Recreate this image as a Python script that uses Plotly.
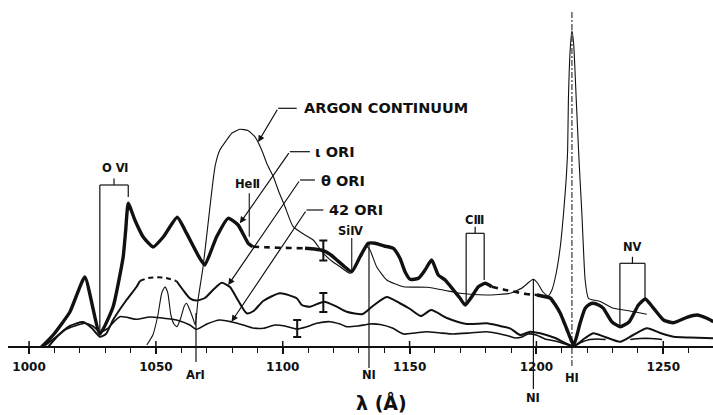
import plotly.graph_objects as go

# ---------------- data (wavelength in Angstrom, relative intensity) ----------------
# iota Ori (heavy curve), split into solid / dashed (interpolated) parts
iota_a_wl = [1004.9, 1009.5, 1016.1, 1022.0, 1027.9, 1033.1, 1037.1, 1038.1, 1039.1, 1041.7, 1045.0, 1048.9,
             1052.9, 1058.4, 1062.1, 1067.3, 1069.3, 1073.9, 1078.5, 1082.4, 1086.4, 1088.2]
iota_a_I = [0, 12, 35, 70, 13, 40, 90, 117, 143.7, 127, 110, 100, 110, 129.7, 113.7, 88.7, 82, 110, 128.7, 122,
            103.7, 100.3]
iota_b_wl = [1088.2, 1093, 1098, 1103, 1108.8]
iota_b_I = [100.3, 99.8, 99.3, 99, 98.7]
iota_c_wl = [1108.8, 1112.5, 1116.0, 1119.0, 1121.3, 1124.5, 1127.2, 1130.5, 1133.7, 1136.4, 1140.0, 1143.6,
             1146.2, 1148.2, 1150.2, 1153.5, 1156.1, 1158.7, 1161.3, 1164.0, 1167.3, 1169.9, 1171.9, 1174.5,
             1177.1, 1179.8, 1182.4]
iota_c_I = [98.7, 98, 96.3, 92, 87, 80, 75.3, 90.3, 103.7, 103.7, 101, 98.7, 88.7, 75.3, 67.7, 68.7, 77, 87, 72,
            67, 57, 48.7, 42, 50.3, 60.3, 63.7, 60.3]
iota_d_wl = [1182.4, 1187, 1192, 1196, 1200.2]
iota_d_I = [60.3, 57.5, 55, 53, 52]
iota_e_wl = [1200.2, 1203.0, 1205.4, 1207.5, 1209.4, 1211.0, 1212.1, 1213.5, 1214.7, 1216.0, 1217.2, 1219.2,
             1220.8, 1222.5, 1224.5, 1226.4, 1229.7, 1233.0, 1236.6, 1240.2, 1242.9, 1246.2, 1250.1, 1254.0,
             1259.3, 1263.3, 1267.2, 1269.7]
iota_e_I = [52, 50.5, 49, 42, 33.7, 24, 17, 8, 2, 12, 23.7, 38.7, 42.5, 43.7, 42, 38.7, 25.3, 20.3, 25.3, 42,
            48, 38.7, 27, 24.3, 29.7, 32, 28.7, 25.3]

# theta Ori (medium curve)
theta_a_wl = [1007.5, 1011.3, 1016.1, 1021.3, 1024.7, 1027.9, 1030.3, 1033.1, 1038.4, 1042.4, 1043.7]
theta_a_I = [0, 11, 21, 25, 19, 10.3, 13, 27, 47, 60.3, 66]
theta_b_wl = [1043.7, 1046.8, 1050.3, 1053.9, 1058.1]
theta_b_I = [66, 69, 69.7, 69, 66]
theta_c_wl = [1058.1, 1060.7, 1063.4, 1066.0, 1069.3, 1072.9, 1075.9, 1079.2, 1082.3, 1085.8, 1088.5, 1092.3,
              1098.9, 1105.5, 1107.5, 1110.7, 1116.3, 1121.3, 1125.2, 1131.5, 1135.5, 1141.0, 1146.0, 1150.2,
              1154.5, 1158.5, 1164.7, 1172.5, 1180.4, 1185.7, 1189.6, 1193.6, 1197.5, 1201.5, 1207.4, 1214.6,
              1219.2, 1222.5, 1227.1, 1233.0, 1238.1, 1243.6, 1248.8, 1254.0, 1260.6, 1269.7]
theta_c_I = [66, 57, 48.7, 46.5, 49, 58, 64.3, 60, 47, 33.7, 36, 46, 53.7, 48.7, 42, 40.3, 45.3, 40.3, 35.3, 33,
             41, 50, 44, 38, 31, 37, 29, 23, 23.7, 21, 18.7, 12, 15.3, 13.7, 9, 1, 9, 13.7, 10, 5.3, 12, 18.7,
             14, 10.3, 9.5, 8.7]

# 42 Ori (light curve)
ori42_a_wl = [1005.5, 1010.1, 1014.1, 1018.0, 1022.0, 1025.1, 1027.9, 1030.7, 1035.8, 1042.4, 1047.6, 1051.6,
              1058.1, 1063.4, 1066.0, 1070.1, 1075.2, 1080.0, 1084.4, 1088.2, 1092.3, 1096.9, 1100.9, 1105.5,
              1109.2, 1113.4, 1118.6, 1122.6, 1125.2, 1129.7, 1134.4, 1138.4, 1143.2, 1147.6, 1152.2, 1156.8,
              1162.0, 1167.3, 1173.8, 1180.4, 1184.9, 1188.3, 1191.6, 1194.3, 1196.7, 1199.9, 1203.4, 1207.4,
              1211.3, 1214.6, 1217.5, 1221.0, 1224.0, 1227.3]
ori42_a_I = [0, 9, 17, 21, 23.7, 21, 15.3, 18, 30.3, 27.7, 30, 29.3, 27, 22, 17.7, 23, 27, 25, 22, 19, 18.7, 22,
             21, 18, 20, 23.7, 25.3, 23, 20.3, 21, 23, 22.5, 19, 13, 14, 15.3, 14, 13, 14, 15.3, 13.5, 11.5, 9,
             10, 13, 12, 8, 6, 3, 0.5, 4.5, 7.5, 8, 7.5]
ori42_b_wl = [1237.0, 1241.0, 1245.0, 1249.5]
ori42_b_I = [7.5, 8.5, 8.5, 7.5]

# Argon continuum (thin curve)
argon_wl = [1046.4, 1048.8, 1050.8, 1052.3, 1053.6, 1054.7, 1055.9, 1057.1, 1058.3, 1059.8, 1061.2, 1062.1,
            1063.2, 1064.7, 1065.5, 1066.6, 1068.6, 1070.5, 1073.3, 1075.2, 1077.9, 1080.0, 1083.1, 1086.3,
            1089.0, 1091.7, 1093.8, 1096.3, 1098.5, 1100.9, 1104.1, 1108.8, 1112.0, 1116.0, 1119.8, 1122.6,
            1126.6, 1128.9, 1131.3, 1133.2, 1134.4, 1137.0, 1141.0, 1147.5, 1156.8, 1163.3, 1169.9, 1180.4,
            1189.6, 1194.3, 1197.1, 1198.8, 1200.7, 1202.6, 1204.6, 1206.1, 1207.8, 1209.4, 1210.7, 1211.7,
            1212.3, 1212.6, 1213.3, 1214.0, 1214.7, 1215.7, 1216.6, 1217.2, 1217.9, 1218.5, 1219.2, 1220.5,
            1225.1, 1230.4, 1236.9, 1243.5]
argon_I = [2, 12, 32, 54, 60.3, 54, 32, 23, 20.3, 29, 41, 43.7, 38, 28, 22, 47, 80.3, 122, 180.3, 197, 207, 214,
           217.7, 216.5, 210.3, 197, 183, 170.3, 155, 140.3, 120.3, 112, 107, 93.7, 85, 80.3, 73.7, 81, 95,
           100.3, 97, 80.3, 67, 60.3, 59.7, 57, 53.7, 52, 53.7, 59, 65, 67.7, 63, 55, 51, 57, 74, 100.3, 134,
           167, 197, 247, 297, 316.3, 302, 247, 197, 167, 134, 100, 67, 48.7, 45.5, 38.7, 36, 32.7]

# representative error bars: (wavelength, intensity, half-range)
err_wl = [1116.0, 1116.0, 1105.7]
err_I = [96.5, 44.5, 18.5]
err_half = [10, 9.5, 8.5]

# axis ticks
major_ticks = [1000, 1050, 1100, 1150, 1200, 1250]
major_labels = ["1000", "1050", "1100", "1150", "1200", "1250"]

# ---------------- figure ----------------
INK = "#111111"
FONT = "DejaVu Sans"
fig = go.Figure()


def add_curve(wl, inten, width, dash="solid", smooth=0.6):
    fig.add_trace(go.Scatter(x=wl, y=inten, mode="lines",
                             line=dict(color=INK, width=width, dash=dash, shape="spline", smoothing=smooth),
                             hoverinfo="skip", showlegend=False))


add_curve(argon_wl, argon_I, 1.1, smooth=0.5)
add_curve(ori42_a_wl, ori42_a_I, 1.6)
add_curve(ori42_b_wl, ori42_b_I, 1.6)
add_curve(theta_a_wl, theta_a_I, 2.0)
add_curve(theta_b_wl, theta_b_I, 2.0, dash="5px,4px")
add_curve(theta_c_wl, theta_c_I, 2.0)
add_curve(iota_a_wl, iota_a_I, 3.4, smooth=0.45)
add_curve(iota_b_wl, iota_b_I, 2.6, dash="6px,5px")
add_curve(iota_c_wl, iota_c_I, 3.4, smooth=0.5)
add_curve(iota_d_wl, iota_d_I, 2.6, dash="6px,5px")
add_curve(iota_e_wl, iota_e_I, 3.4, smooth=0.5)

fig.add_trace(go.Scatter(x=err_wl, y=err_I, mode="markers", marker=dict(size=1, color=INK),
                         error_y=dict(type="data", array=err_half, color=INK, thickness=2, width=4),
                         hoverinfo="skip", showlegend=False))

shapes = []


def seg(x0, y0, x1, y1, width=1.2, dash="solid"):
    shapes.append(dict(type="line", xref="x", yref="y", x0=x0, y0=y0, x1=x1, y1=y1,
                       line=dict(color=INK, width=width, dash=dash)))


# upward halves of major ticks
for t in major_ticks:
    seg(t, 0, t, 6, 1.5)

# brackets for multiplets: (left, right, top, left bottom, right bottom)
brackets = [(1027.9, 1039.1, 162, 15, 150), (1172.3, 1179.4, 113.7, 43.7, 67), (1232.9, 1242.8, 83.7, 20.3, 48.7)]
for l, r, top, lb, rb in brackets:
    seg(l, lb, l, top)
    seg(r, rb, r, top)
    seg(l, top, r, top)
    seg((l + r) / 2, top, (l + r) / 2, top + 6.5)

# single-line markers above curves
seg(1086.8, 110.3, 1086.8, 153.7, 1.1)   # He II
seg(1127.2, 75.3, 1127.2, 109, 1.1)      # Si IV

# identification lines crossing the axis
seg(1065.8, 34, 1065.8, -15, 1.2)        # Ar I
seg(1134.0, 103.7, 1134.0, -21, 1.2)     # N I
seg(1198.8, 67.7, 1198.8, -42, 1.2)      # N I
seg(1214.0, 335, 1214.0, -19, 1.0, "6px,2px,2px,2px")  # H I

# leader lines (horizontal parts)
leaders = [(1098.2, 1105.5, 238.7, 1090.3, 205),
           (1102.8, 1110.7, 195.3, 1083.1, 123.7),
           (1106.8, 1112.7, 167, 1078.5, 62),
           (1109.4, 1116.0, 137, 1079.8, 25.3)]
annotations = []
for x0, x1, y, tx, ty in leaders:
    seg(x0, y, x1, y, 1.2)
    annotations.append(dict(x=tx, y=ty, ax=x0, ay=y, xref="x", yref="y", axref="x", ayref="y",
                            text="", showarrow=True, arrowhead=2, arrowsize=1.1, arrowwidth=1.2,
                            arrowcolor=INK, standoff=0))

big_labels = [("ARGON CONTINUUM", 1107.5, 239), ("ι ORI", 1112.1, 195), ("θ ORI", 1114.1, 166),
              ("42 ORI", 1117.3, 137)]
for txt, x, y in big_labels:
    annotations.append(dict(x=x, y=y, xref="x", yref="y", text=txt, showarrow=False, xanchor="left",
                            yanchor="middle", font=dict(family=FONT, size=14.5, color=INK, weight="bold")))

small_labels = [("O Ⅵ", 1033.9, 179), ("HeⅡ", 1086.3, 163), ("SiⅣ", 1126.9, 116), ("CⅢ", 1175.4, 127),
                ("NⅤ", 1237.7, 100), ("ArⅠ", 1065.8, -28), ("NⅠ", 1134.0, -28), ("NⅠ", 1198.8, -51),
                ("HⅠ", 1214.0, -31)]
for txt, x, y in small_labels:
    annotations.append(dict(x=x, y=y, xref="x", yref="y", text=txt, showarrow=False, xanchor="center",
                            yanchor="middle", font=dict(family=FONT, size=11.5, color=INK, weight="bold")))

annotations.append(dict(x=1138.9, y=-55, xref="x", yref="y", text="λ (Å)", showarrow=False,
                        xanchor="center", yanchor="middle",
                        font=dict(family=FONT, size=19, color=INK, weight="bold")))

fig.update_layout(
    width=713, height=415,
    margin=dict(l=8, r=0, t=0, b=0),
    paper_bgcolor="white", plot_bgcolor="white",
    shapes=shapes, annotations=annotations,
    xaxis=dict(range=[991.7, 1269.6], anchor="free", position=68 / 415,
               showline=True, linecolor=INK, linewidth=2, showgrid=False, zeroline=False,
               tickmode="array", tickvals=major_ticks, ticktext=major_labels,
               ticks="outside", ticklen=6, tickwidth=1.5, tickcolor=INK, ticklabelstandoff=3,
               tickfont=dict(family=FONT, size=12, color=INK, weight="bold"),
               minor=dict(dtick=10, tick0=1000, ticks="outside", ticklen=5, tickwidth=1.2, tickcolor=INK)),
    yaxis=dict(range=[-68, 347], visible=False, showgrid=False, zeroline=False),
)

fig.write_html("out.html", config={"displayModeBar": False},
               post_script="document.body.style.margin='0';document.body.style.overflow='hidden';")
